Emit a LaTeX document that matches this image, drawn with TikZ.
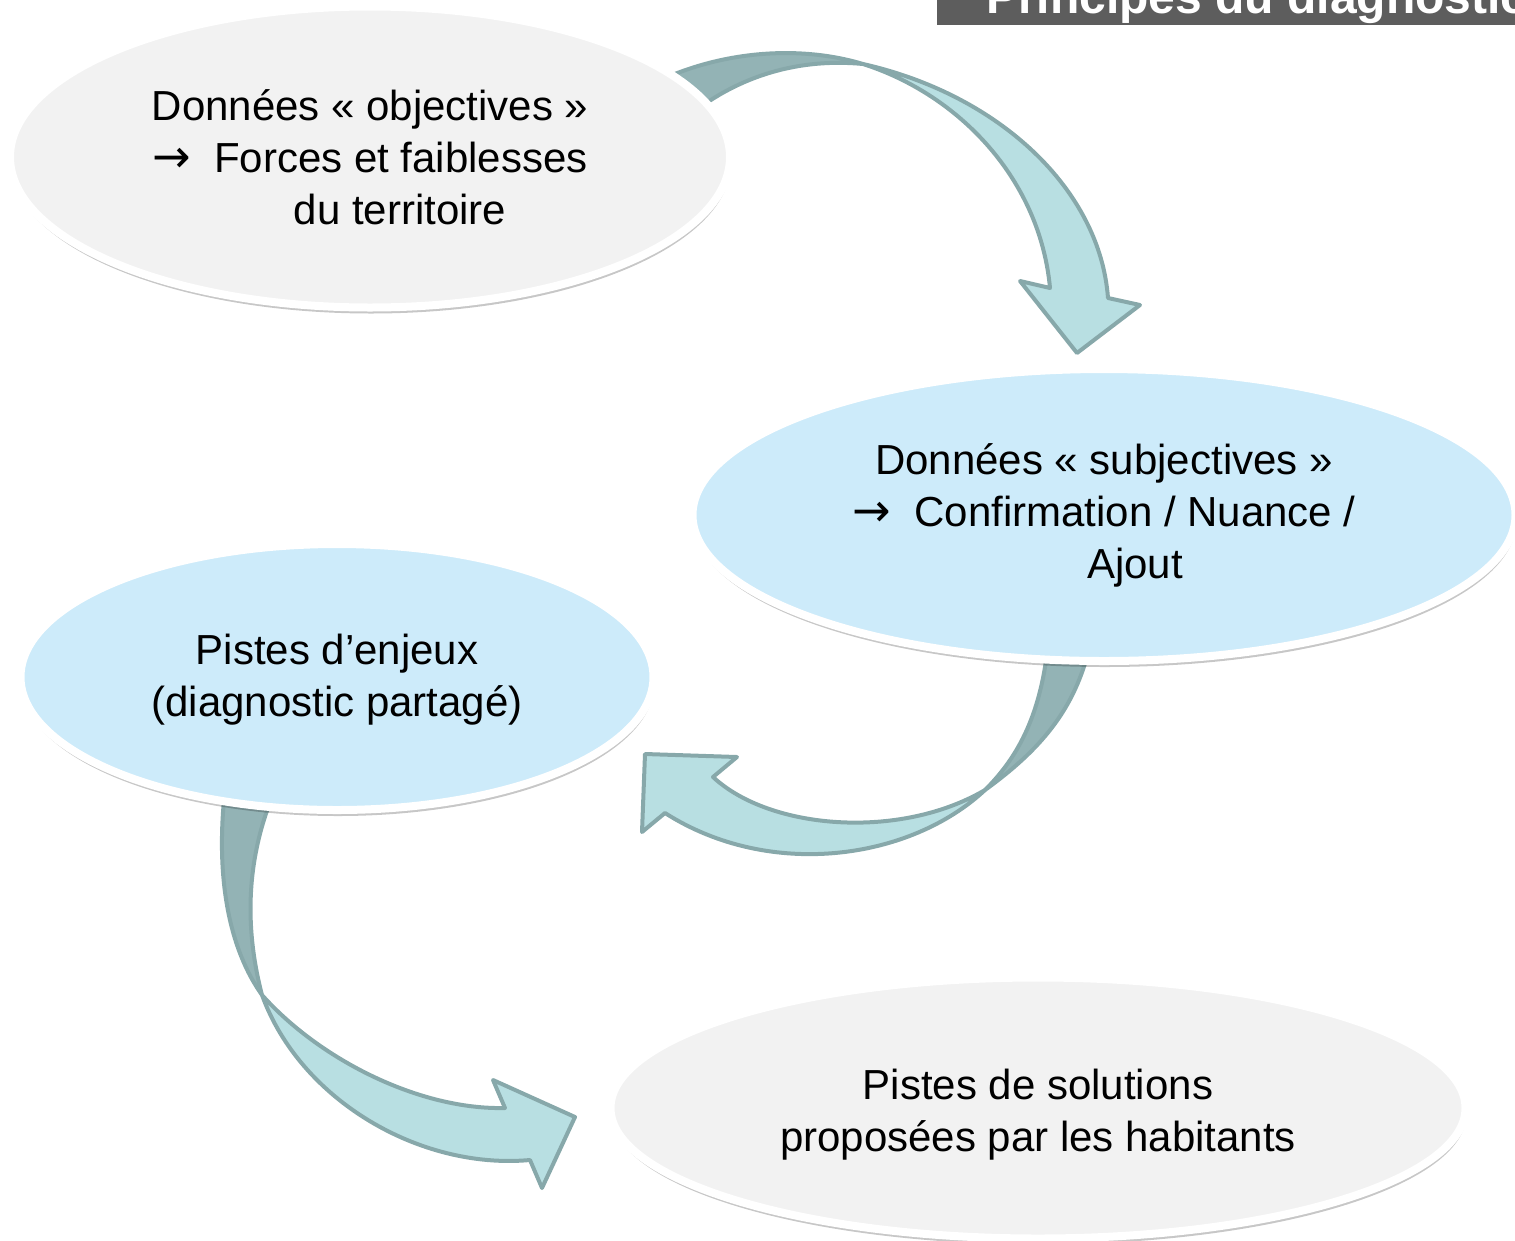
\documentclass[tikz,border=0pt]{standalone}
\usepackage{fontspec}
\setmainfont{Liberation Sans}
\newfontfamily\flechefont{DejaVu Sans}
\usetikzlibrary{shapes.geometric,shadows}

\definecolor{grisbulle}{HTML}{F2F2F2}
\definecolor{bleubulle}{HTML}{CDEBFA}
\definecolor{flechefond}{HTML}{B8DFE2}
\definecolor{flechedos}{HTML}{93B3B5}
\definecolor{flechebord}{HTML}{87A8AA}
\definecolor{bandeau}{HTML}{5D5D5D}

\newcommand{\versfleche}{{\flechefont\fontsize{46}{52}\selectfont →}}

\tikzset{
  bulle/.style={ellipse, draw=white, line width=8pt, inner sep=0pt, align=center,
    font=\fontsize{42}{52}\selectfont,
    drop shadow={shadow xshift=1pt, shadow yshift=-6pt, opacity=0.22, fill=black}},
  fleche/.style={fill=flechefond, draw=flechebord, line width=4pt, line join=round},
  dos/.style={fill=flechedos, draw=flechebord, line width=4pt, line join=round}
}

\begin{document}
\begin{tikzpicture}[x=1pt, y=-1pt]
        \useasboundingbox (0,0) rectangle (1515,1240);
        \fill[bandeau] (937,0) rectangle (1515,25);
        \node[anchor=base west, inner sep=0pt, text=white, font=\bfseries\fontsize{48}{56}\selectfont] (titre) at (986,13) {Principes du diagnostic};
        \draw[dos] (650,85) .. controls (720,50) and (800,45) .. (863,64) .. controls (800,58) and (740,75) .. (690,115) -- cycle;
        \draw[fleche] (863,64) .. controls (1000,95) and (1100,190) .. (1108,298) -- (1140,305) -- (1077,353) -- (1020,281) -- (1050,288) .. controls (1040,180) and (960,95) .. (863,64) -- cycle;
        \draw[dos] (1090,645) .. controls (1075,710) and (1040,750) .. (985,790) .. controls (1015,760) and (1040,720) .. (1048,645) -- cycle;
        \draw[fleche] (985,790) .. controls (910,860) and (770,880) .. (665,813) -- (642,832) -- (645,754) -- (737,757) -- (713,777) .. controls (770,830) and (900,840) .. (985,790) -- cycle;
        \draw[dos] (225,790) .. controls (215,880) and (230,950) .. (262,995) .. controls (245,930) and (245,860) .. (275,790) -- cycle;
        \draw[fleche] (262,995) .. controls (300,1100) and (420,1170) .. (530,1160) -- (542,1188) -- (575,1117) -- (493,1080) -- (505,1108) .. controls (420,1110) and (320,1060) .. (262,995) -- cycle;
        \node[bulle, fill=grisbulle, minimum width=720pt, minimum height=301pt] (objectives) at (370,157) {Données « objectives »\\\versfleche\ \ Forces et faiblesses\\\hspace*{60pt}du territoire};
        \node[bulle, fill=bleubulle, minimum width=823pt, minimum height=292pt] (subjectives) at (1104,515) {Données « subjectives »\\\versfleche\ \ Confirmation / Nuance /\\\hspace*{62pt}Ajout};
        \node[bulle, fill=bleubulle, minimum width=633pt, minimum height=266pt] (enjeux) at (337,677) {\rule{0pt}{36pt}Pistes d’enjeux\\(diagnostic partagé)};
        \node[bulle, fill=grisbulle, minimum width=855pt, minimum height=261pt] (solutions) at (1038,1108) {\rule{0pt}{44pt}Pistes de solutions\\proposées par les habitants};
\end{tikzpicture}
\end{document}
